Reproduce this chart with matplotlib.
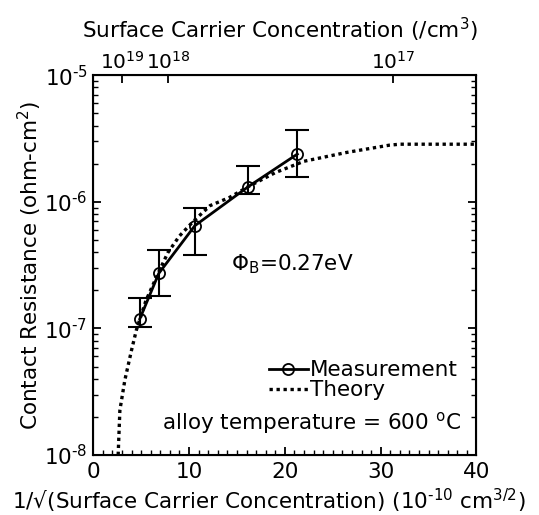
import matplotlib
matplotlib.use("Agg")
import matplotlib.pyplot as plt
from matplotlib.ticker import MultipleLocator, LogLocator, FixedLocator, FixedFormatter, NullFormatter

# ---- data ----
meas_x = [4.86, 6.84, 10.6, 16.2, 21.3]
meas_y = [1.19e-7, 2.72e-7, 6.47e-7, 1.32e-6, 2.38e-6]
meas_hi = [1.73e-7, 4.16e-7, 8.9e-7, 1.92e-6, 3.7e-6]
meas_lo = [1.02e-7, 1.81e-7, 3.8e-7, 1.16e-6, 1.57e-6]

theory_x = [2.6, 2.78, 3.3, 4.0, 4.5, 5.5, 6.8, 7.8, 9.0, 10.5, 12.2, 14.2, 16.2, 19.0, 22.0, 26.4, 30.9, 32.0, 40.0]
theory_y = [1.0e-8, 2.26e-8, 3.91e-8, 6.75e-8, 9.7e-8, 1.66e-7, 2.75e-7, 3.98e-7, 5.37e-7, 7.08e-7,
            9.33e-7, 1.08e-6, 1.32e-6, 1.70e-6, 2.09e-6, 2.45e-6, 2.80e-6, 2.85e-6, 2.85e-6]

top_tick_pos = [3.0, 7.8, 31.3]
top_tick_labels = ['10$^{19}$', '10$^{18}$', '10$^{17}$']

y_ticks = [1e-8, 1e-7, 1e-6, 1e-5]
y_tick_labels = ['10$^{\\text{-}8}$', '10$^{\\text{-}7}$', '10$^{\\text{-}6}$', '10$^{\\text{-}5}$']

plt.rcParams['font.family'] = ['DejaVu Sans']
plt.rcParams['mathtext.fontset'] = 'dejavusans'
FS = 15.5

fig = plt.figure(figsize=(5.39, 5.15), dpi=100)
ax = fig.add_axes([0.173, 0.1165, 0.711, 0.7375])

ax.plot(theory_x, theory_y, color='black', lw=2.4, linestyle=(0, (1, 1.1)), label='Theory', zorder=2)

yerr_lo = [m - l for m, l in zip(meas_y, meas_lo)]
yerr_hi = [h - m for m, h in zip(meas_y, meas_hi)]
ax.errorbar(meas_x, meas_y, yerr=[yerr_lo, yerr_hi], fmt='none', ecolor='black',
            elinewidth=1.5, capsize=8.4, capthick=1.5, zorder=3)
ax.plot(meas_x, meas_y, color='black', lw=2.0, marker='o', markersize=8,
        markerfacecolor='none', markeredgewidth=1.3, label='Measurement', zorder=4)

ax.set_yscale('log')
ax.set_xlim(0, 40)
ax.set_ylim(1e-8, 1e-5)

ax.xaxis.set_major_locator(MultipleLocator(10))
ax.xaxis.set_minor_locator(MultipleLocator(1))
ax.yaxis.set_major_locator(FixedLocator(y_ticks))
ax.yaxis.set_major_formatter(FixedFormatter(y_tick_labels))
ax.yaxis.set_minor_locator(LogLocator(base=10, subs=range(2, 10), numticks=20))
ax.yaxis.set_minor_formatter(NullFormatter())

ax.tick_params(axis='both', which='major', direction='in', length=6, width=1.3, labelsize=FS)
ax.tick_params(axis='both', which='minor', direction='in', length=3.5, width=1.0)
ax.tick_params(axis='y', which='both', right=True)
ax.tick_params(axis='y', which='major', pad=4)
ax.tick_params(axis='x', which='both', top=False)
ax.tick_params(axis='x', which='major', pad=5)
for s in ax.spines.values():
    s.set_linewidth(1.5)

ax.set_xlabel('1/\u221a(Surface Carrier Concentration) (10$^{\\text{-}10}$ cm$^{3/2}$)', fontsize=FS)
ax.xaxis.set_label_coords(0.458, -0.083)
ax.set_ylabel('Contact Resistance (ohm-cm$^{2}$)', fontsize=FS, labelpad=0)

ax2 = ax.twiny()
ax2.set_xlim(0, 40)
ax2.xaxis.set_major_locator(FixedLocator(top_tick_pos))
ax2.xaxis.set_major_formatter(FixedFormatter(top_tick_labels))
ax2.tick_params(axis='x', direction='in', length=6, width=1.3, labelsize=14.5, pad=2)
ax2.set_xlabel('Surface Carrier Concentration (/cm$^{3}$)', fontsize=FS)
ax2.xaxis.set_label_coords(0.486, 1.097)

ax.text(14.4, 3.2e-7, '$\\Phi_{\\mathrm{B}}$=0.27eV', fontsize=FS, va='center', ha='left')
ax.text(38.4, 1.79e-8, 'alloy temperature = 600 $^{\\mathrm{o}}$C', fontsize=FS, va='center', ha='right')

leg = ax.legend(handles=[ax.lines[-1], ax.lines[0]], loc='lower right',
                bbox_to_anchor=(0.99, 0.105), frameon=False, fontsize=FS,
                handlelength=1.8, handletextpad=0.1, labelspacing=0.0, borderpad=0.2)

fig.savefig('out.png', dpi=100)
